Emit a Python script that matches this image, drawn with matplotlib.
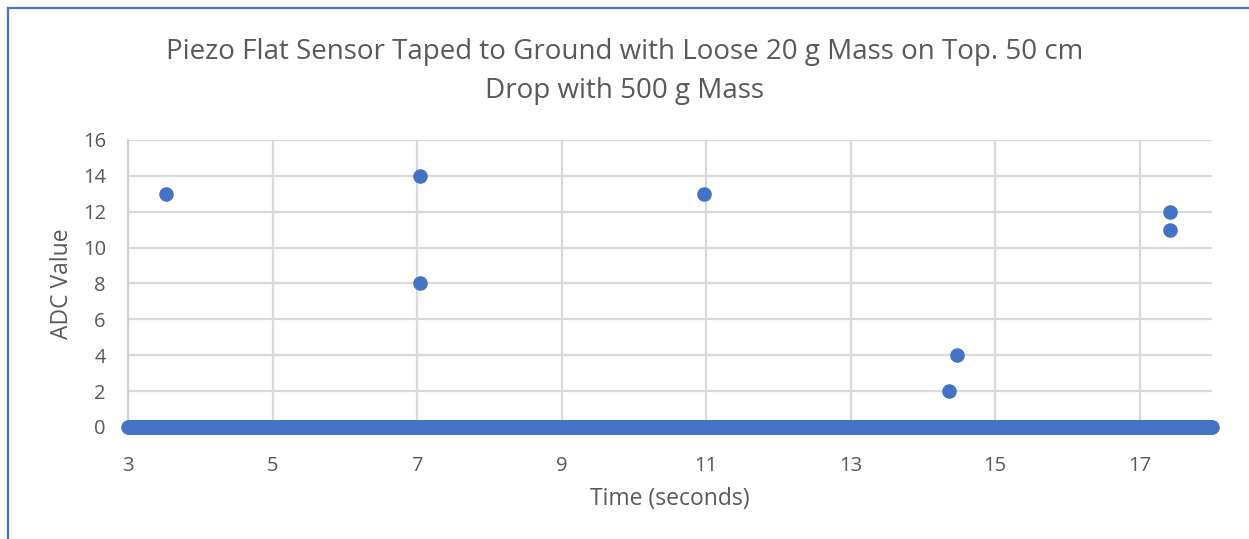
#!/usr/bin/python3

import matplotlib
matplotlib.use('Agg')
import matplotlib.pyplot as plt
from matplotlib.lines import Line2D
import numpy as np

# non-zero readings picked off the chart
event_time = [3.53, 7.04, 7.04, 10.97, 14.36, 14.47, 17.42, 17.42]
event_adc = [13, 14, 8, 13, 2, 4, 12, 11]

# the rest of the run reads zero; sensor sampled from 3 s to 18 s
sample_start = 3.0
sample_stop = 18.0
sample_count = 1501

x_ticks = [3, 5, 7, 9, 11, 13, 15, 17]
y_ticks = [0, 2, 4, 6, 8, 10, 12, 14, 16]

title = ('Piezo Flat Sensor Taped to Ground with Loose 20 g Mass on Top. 50 cm\n'
         'Drop with 500 g Mass')


def main():
	''' draws the piezo drop scatter'''

	plt.rcParams['font.family'] = ['Open Sans', 'DejaVu Sans']
	grey = '#595959'
	blue = '#4472c4'

	fig = plt.figure(figsize=(12.49, 5.39), dpi=100)
	ax = fig.add_axes([0.1025, 0.2078, 0.8679, 0.5325])

	zero_time = np.linspace(sample_start, sample_stop, sample_count)
	zero_adc = np.zeros_like(zero_time)
	ax.scatter(zero_time, zero_adc, s=110, color=blue, linewidths=0, zorder=3, clip_on=False)
	ax.scatter(event_time, event_adc, s=110, color=blue, linewidths=0, zorder=3, clip_on=False)

	ax.set_xlim(3, 18)
	ax.set_ylim(0, 16)
	ax.set_xticks(x_ticks)
	ax.set_yticks(y_ticks)
	ax.grid(True, color='#d9d9d9', linewidth=1.6)
	ax.set_axisbelow(True)
	for side in ['top', 'right', 'bottom']:
		ax.spines[side].set_visible(False)
	ax.spines['left'].set_color('#d0d0d0')
	ax.spines['left'].set_linewidth(1.6)
	ax.tick_params(length=0, labelsize=14.5, labelcolor=grey)
	ax.tick_params(axis='x', pad=21)
	ax.tick_params(axis='y', pad=16)

	ax.set_xlabel('Time (seconds)', fontsize=16.5, color=grey, labelpad=8)
	ax.set_ylabel('ADC Value', fontsize=16.5, color=grey, labelpad=6)
	fig.suptitle(title, fontsize=20, color=grey, y=0.929, linespacing=1.5)

	# chart border, only the top and left edges show in the crop
	fig.add_artist(Line2D([0.0065, 0.0065], [0, 0.985], transform=fig.transFigure, color=blue, linewidth=1.6))
	fig.add_artist(Line2D([0.0065, 1], [0.985, 0.985], transform=fig.transFigure, color=blue, linewidth=1.6))

	fig.savefig('out.png', dpi=100)


if __name__ == '__main__':
	main()
